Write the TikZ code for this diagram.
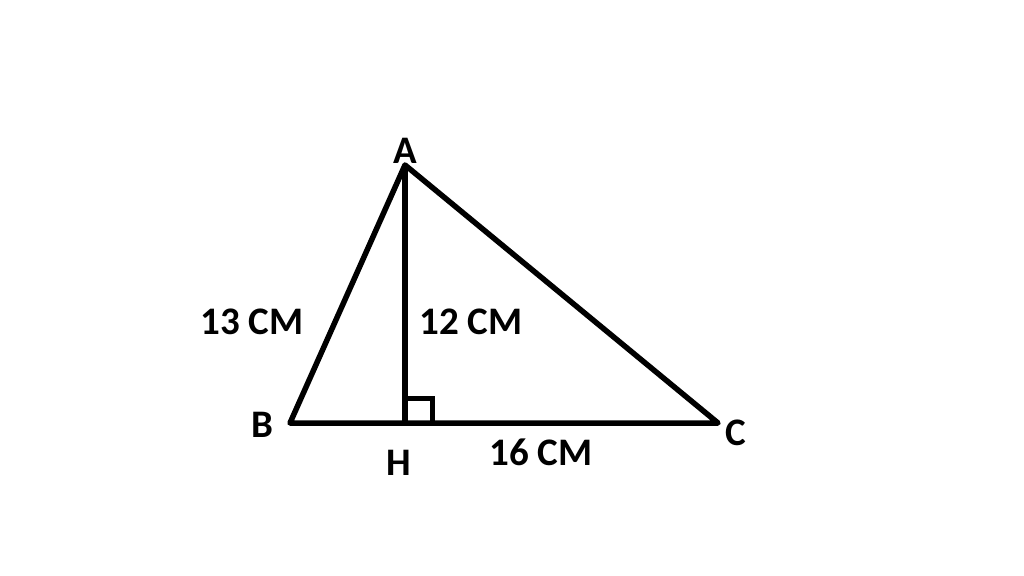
\documentclass[tikz,border=0pt]{standalone}
\usepackage{fontspec}
\setmainfont{Carlito}
\begin{document}
\begin{tikzpicture}[x=1pt,y=-1pt,
  edge/.style={line width=5.5pt,line join=round,line cap=round},
  lbl/.style={font=\fontsize{39}{42}\selectfont\bfseries,inner sep=0pt}]
\useasboundingbox[fill=white] (0,0) rectangle (1024,575);
\coordinate (A) at (405,165);
\coordinate (B) at (290,423);
\coordinate (C) at (718,423);
\coordinate (H) at (405,423);
\draw[edge] (A) -- (B) -- (C) -- cycle;
\draw[edge,line cap=butt] (A) -- (H);
\draw[line width=5pt] (H) ++(0,-25) -- ++(27,0) -- ++(0,25);
\node[lbl] (la) at (405,151) {A};
\node[lbl] (lb) at (262,425) {B};
\node[lbl] (lc) at (736,433) {C};
\node[lbl] (lh) at (399,463) {H};
\node[lbl] (l13) at (252,322) {13 CM};
\node[lbl] (l12) at (471,322) {12 CM};
\node[lbl] (l16) at (541,452) {16 CM};
\end{tikzpicture}
\end{document}
